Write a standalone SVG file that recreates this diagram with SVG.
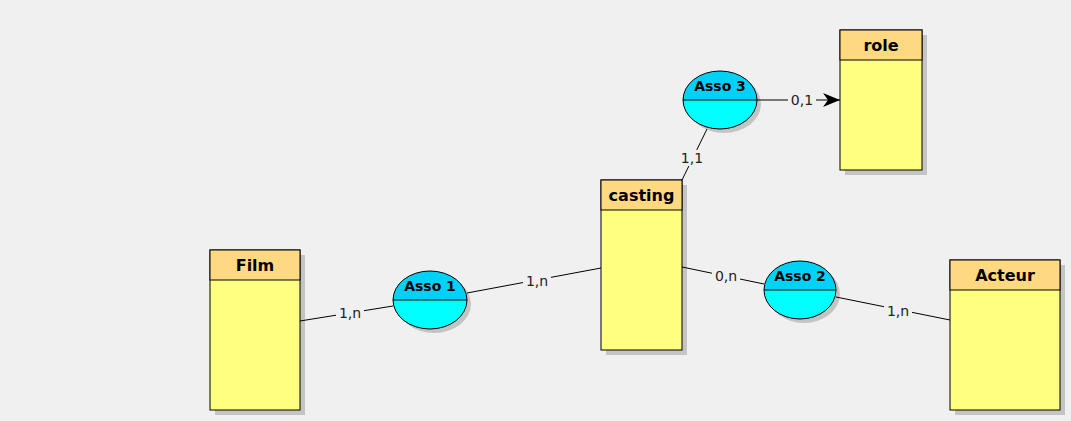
<svg xmlns="http://www.w3.org/2000/svg" width="1071" height="421" viewBox="0 0 1071 421">
<defs>
<style>
.shadow{fill:#c4c4c4}
.hdr{fill:#ffd982;stroke:#000;stroke-width:1}
.body{fill:#ffff80;stroke:#000;stroke-width:1}
.title{font-family:"DejaVu Sans",sans-serif;font-weight:bold;font-size:16px;fill:#000;text-anchor:middle}
.atitle{font-family:"DejaVu Sans",sans-serif;font-weight:bold;font-size:14px;fill:#000;text-anchor:middle}
.lnk{stroke:#000;stroke-width:1;fill:none}
.lbl{font-family:"DejaVu Sans",sans-serif;font-size:14px;fill:#222;text-anchor:middle}
.lblbg{fill:#f0f0f0}
.etop{fill:#00d2f5}
.ebot{fill:#00ffff}
.eo{fill:none;stroke:#000;stroke-width:1}
</style>
<marker id="arr" markerWidth="18" markerHeight="14" refX="17" refY="7" orient="auto" markerUnits="userSpaceOnUse">
<path d="M0,0 L17,7 L0,14 L5,7 Z" fill="#000"/>
</marker>
<clipPath id="c1"><ellipse cx="430" cy="300" rx="37" ry="29"/></clipPath>
<clipPath id="c2"><ellipse cx="800" cy="290" rx="36" ry="29"/></clipPath>
<clipPath id="c3"><ellipse cx="720" cy="100" rx="37" ry="29"/></clipPath>
</defs>
<rect width="1071" height="421" fill="#f0f0f0"/>
<g id="film">
<rect class="shadow" x="215" y="255" width="90" height="160"/>
<rect class="body" x="210" y="250" width="90" height="160"/>
<rect class="hdr" x="210" y="250" width="90" height="30"/>
<text class="title" x="255" y="271">Film</text>
</g>
<g id="casting">
<rect class="shadow" x="606" y="185" width="81" height="170"/>
<rect class="body" x="601" y="180" width="81" height="170"/>
<rect class="hdr" x="601" y="180" width="81" height="30"/>
<text class="title" x="641.5" y="201">casting</text>
</g>
<g id="role">
<rect class="shadow" x="845" y="35" width="82" height="140"/>
<rect class="body" x="840" y="30" width="82" height="140"/>
<rect class="hdr" x="840" y="30" width="82" height="30"/>
<text class="title" x="881" y="51">role</text>
</g>
<g id="acteur">
<rect class="shadow" x="955" y="265" width="110" height="150"/>
<rect class="body" x="950" y="260" width="110" height="150"/>
<rect class="hdr" x="950" y="260" width="110" height="30"/>
<text class="title" x="1005" y="281">Acteur</text>
</g>
<g id="asso1">
<ellipse cx="434" cy="304" rx="37" ry="29" fill="#c4c4c4"/>
<g clip-path="url(#c1)"><rect class="etop" x="390" y="268" width="80" height="32"/><rect class="ebot" x="390" y="300" width="80" height="32"/></g>
<ellipse class="eo" cx="430" cy="300" rx="37" ry="29"/>
<line class="lnk" x1="393" y1="300" x2="467" y2="300"/>
<text class="atitle" x="430" y="291">Asso 1</text>
</g>
<g id="asso2">
<ellipse cx="804" cy="294" rx="36" ry="29" fill="#c4c4c4"/>
<g clip-path="url(#c2)"><rect class="etop" x="760" y="258" width="80" height="32"/><rect class="ebot" x="760" y="290" width="80" height="32"/></g>
<ellipse class="eo" cx="800" cy="290" rx="36" ry="29"/>
<line class="lnk" x1="764" y1="290" x2="836" y2="290"/>
<text class="atitle" x="800" y="281">Asso 2</text>
</g>
<g id="asso3">
<ellipse cx="724" cy="104" rx="37" ry="29" fill="#c4c4c4"/>
<g clip-path="url(#c3)"><rect class="etop" x="680" y="68" width="80" height="32"/><rect class="ebot" x="680" y="100" width="80" height="32"/></g>
<ellipse class="eo" cx="720" cy="100" rx="37" ry="29"/>
<line class="lnk" x1="683" y1="100" x2="757" y2="100"/>
<text class="atitle" x="720" y="91">Asso 3</text>
</g>
<g id="connectors">
<line class="lnk" x1="300" y1="321" x2="393" y2="306"/>
<line class="lnk" x1="467" y1="293" x2="601" y2="268"/>
<line class="lnk" x1="682" y1="267" x2="764" y2="284"/>
<line class="lnk" x1="836" y1="297" x2="950" y2="320"/>
<line class="lnk" x1="682" y1="180" x2="707" y2="129"/>
<line class="lnk" x1="757" y1="100" x2="840" y2="100" marker-end="url(#arr)"/>
<rect class="lblbg" x="336" y="305" width="28" height="16"/>
<text class="lbl" x="350" y="318">1,n</text>
<rect class="lblbg" x="523" y="273" width="28" height="16"/>
<text class="lbl" x="537" y="286">1,n</text>
<rect class="lblbg" x="712" y="268" width="28" height="16"/>
<text class="lbl" x="726" y="281">0,n</text>
<rect class="lblbg" x="884" y="303" width="28" height="16"/>
<text class="lbl" x="898" y="316">1,n</text>
<rect class="lblbg" x="679" y="150" width="26" height="16"/>
<text class="lbl" x="692" y="163">1,1</text>
<rect class="lblbg" x="788" y="92" width="28" height="16"/>
<text class="lbl" x="802" y="105">0,1</text>
</g>
</svg>
